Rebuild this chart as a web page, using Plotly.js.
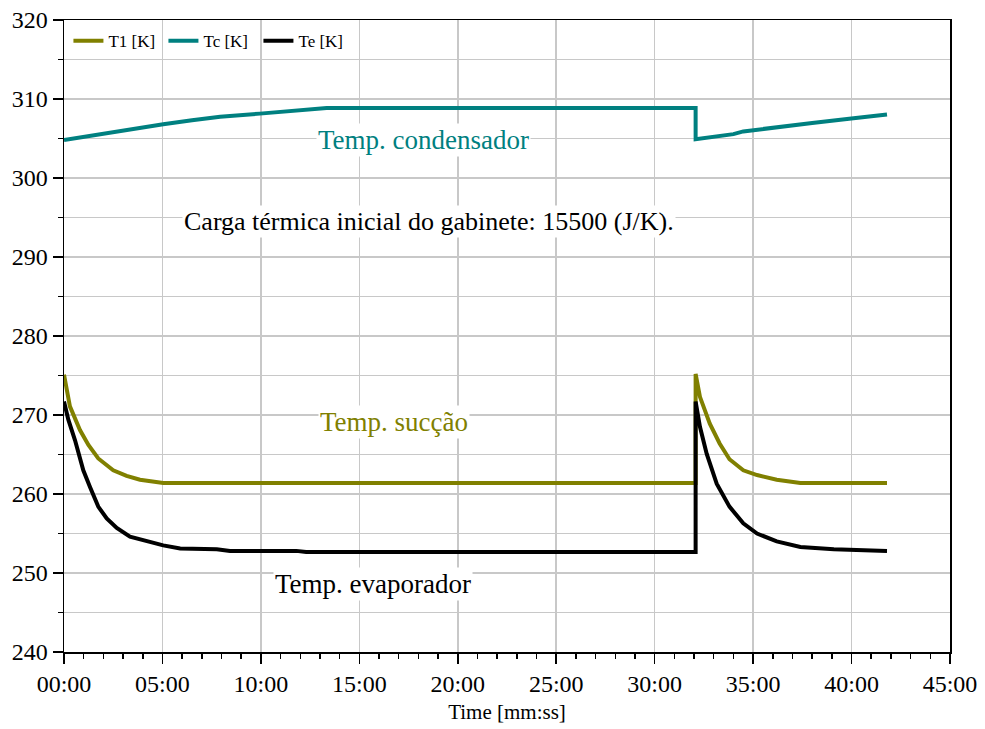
<!DOCTYPE html>
<html>
<head>
<meta charset="utf-8">
<script src="https://cdn.plot.ly/plotly-3.0.1.min.js"></script>
<style>html,body{margin:0;padding:0;background:#fff;}#chart{width:985px;height:729px;}</style>
</head>
<body>
<div id="chart"></div>
<script>
// Time in minutes
var t1Time = [0, 0.3, 0.81, 1.24, 1.74, 2.5, 3.18, 3.86, 5.04, 10, 20, 32.08, 32.08, 32.3, 32.8, 33.3, 33.8, 34.5, 35.2, 36.2, 37.4, 41.8];
var t1Vals = [275.1, 271.1, 268.1, 266.2, 264.5, 263.0, 262.3, 261.8, 261.4, 261.4, 261.4, 261.4, 275.2, 272.3, 268.9, 266.4, 264.4, 263.0, 262.4, 261.8, 261.4, 261.4];

var tcTime = [0, 1, 2.34, 3.5, 5.04, 6.5, 7.93, 9.95, 11.5, 13.34, 20, 25, 32.08, 32.08, 33, 34.0, 34.5, 36, 38, 40.1, 41.8];
var tcVals = [304.8, 305.2, 305.8, 306.3, 306.8, 307.3, 307.75, 308.15, 308.5, 308.85, 308.85, 308.85, 308.85, 304.9, 305.2, 305.55, 305.9, 306.4, 306.95, 307.55, 308.05];

var teTime = [0, 0.22, 0.56, 0.98, 1.32, 1.74, 2.17, 2.68, 3.35, 4.2, 5.04, 5.9, 7.76, 8.43, 11.8, 12.3, 20, 32.08, 32.08, 32.3, 32.64, 33.15, 33.8, 34.5, 35.2, 36.2, 37.4, 39.1, 41.8];
var teVals = [271.7, 269.4, 266.8, 263.0, 260.9, 258.4, 256.9, 255.7, 254.6, 254.0, 253.5, 253.1, 253.0, 252.8, 252.8, 252.65, 252.65, 252.65, 271.7, 268.5, 265.1, 261.3, 258.4, 256.3, 255.0, 254.0, 253.3, 253.0, 252.8];

var seriesNames = ["T1 [K]", "Tc [K]", "Te [K]"];
var xTickVals = [0, 5, 10, 15, 20, 25, 30, 35, 40, 45];
var xTickText = ["00:00", "05:00", "10:00", "15:00", "20:00", "25:00", "30:00", "35:00", "40:00", "45:00"];
var yTickVals = [240, 250, 260, 270, 280, 290, 300, 310, 320];
var yTickText = ["240", "250", "260", "270", "280", "290", "300", "310", "320"];

var labelTexts = ["Temp. condensador", "Carga térmica inicial do gabinete: 15500 (J/K).", "Temp. sucção", "Temp. evaporador"];
var labelX = [18.25, 18.55, 16.75, 15.7];
var labelY = [304.85, 294.55, 269.15, 248.55];
var labelSizes = [27, 26, 27, 27];

var font = "Liberation Serif";
var colors = ["#808000", "#008080", "#000000"];
var labelColors = ["#008080", "#000000", "#808000", "#000000"];

var traces = [
  {x: t1Time, y: t1Vals, name: seriesNames[0], mode: "lines", line: {color: colors[0], width: 4}},
  {x: tcTime, y: tcVals, name: seriesNames[1], mode: "lines", line: {color: colors[1], width: 4}},
  {x: teTime, y: teVals, name: seriesNames[2], mode: "lines", line: {color: colors[2], width: 4}}
];

var annotations = labelTexts.map(function(t, i) {
  return {x: labelX[i], y: labelY[i], xref: "x", yref: "y", text: t, showarrow: false,
    font: {family: font, size: labelSizes[i], color: labelColors[i]}, bgcolor: "white", borderpad: 1};
});

var layout = {
  width: 985, height: 729,
  margin: {l: 64, r: 35, t: 20, b: 77},
  paper_bgcolor: "white", plot_bgcolor: "white",
  font: {family: font, color: "black", size: 24},
  showlegend: true,
  legend: {orientation: "h", x: 0.005, xanchor: "left", y: 0.995, yanchor: "top",
    font: {family: font, size: 17, color: "black"}, bgcolor: "rgba(0,0,0,0)", entrywidth: 50, entrywidthmode: "pixels"},
  xaxis: {
    range: [0, 45], tickmode: "array", tickvals: xTickVals, ticktext: xTickText,
    showgrid: true, gridcolor: "#c8c8c8", gridwidth: 1.5,
    showline: true, linecolor: "black", linewidth: 1.5, mirror: true,
    ticks: "outside", ticklen: 10, tickcolor: "black", tickwidth: 1.5,
    tickfont: {family: font, size: 24, color: "black"},
    minor: {dtick: 1, ticklen: 5, tickcolor: "black", tickwidth: 1.5, showgrid: false, ticks: "outside"},
    zeroline: false,
    title: {text: "Time [mm:ss]", font: {family: font, size: 21, color: "black"}, standoff: 8}
  },
  yaxis: {
    range: [240, 320], tickmode: "array", tickvals: yTickVals, ticktext: yTickText,
    showgrid: true, gridcolor: "#c8c8c8", gridwidth: 1.5,
    showline: true, linecolor: "black", linewidth: 1.5, mirror: true,
    ticks: "outside", ticklen: 10, tickcolor: "black", tickwidth: 1.5,
    tickfont: {family: font, size: 24, color: "black"},
    minor: {dtick: 5, ticklen: 5, tickcolor: "black", tickwidth: 1.5, showgrid: true, gridcolor: "#c8c8c8", gridwidth: 1.5, ticks: "outside"},
    zeroline: false
  },
  annotations: annotations
};

Plotly.newPlot("chart", traces, layout, {staticPlot: true, displayModeBar: false});
</script>
</body>
</html>
